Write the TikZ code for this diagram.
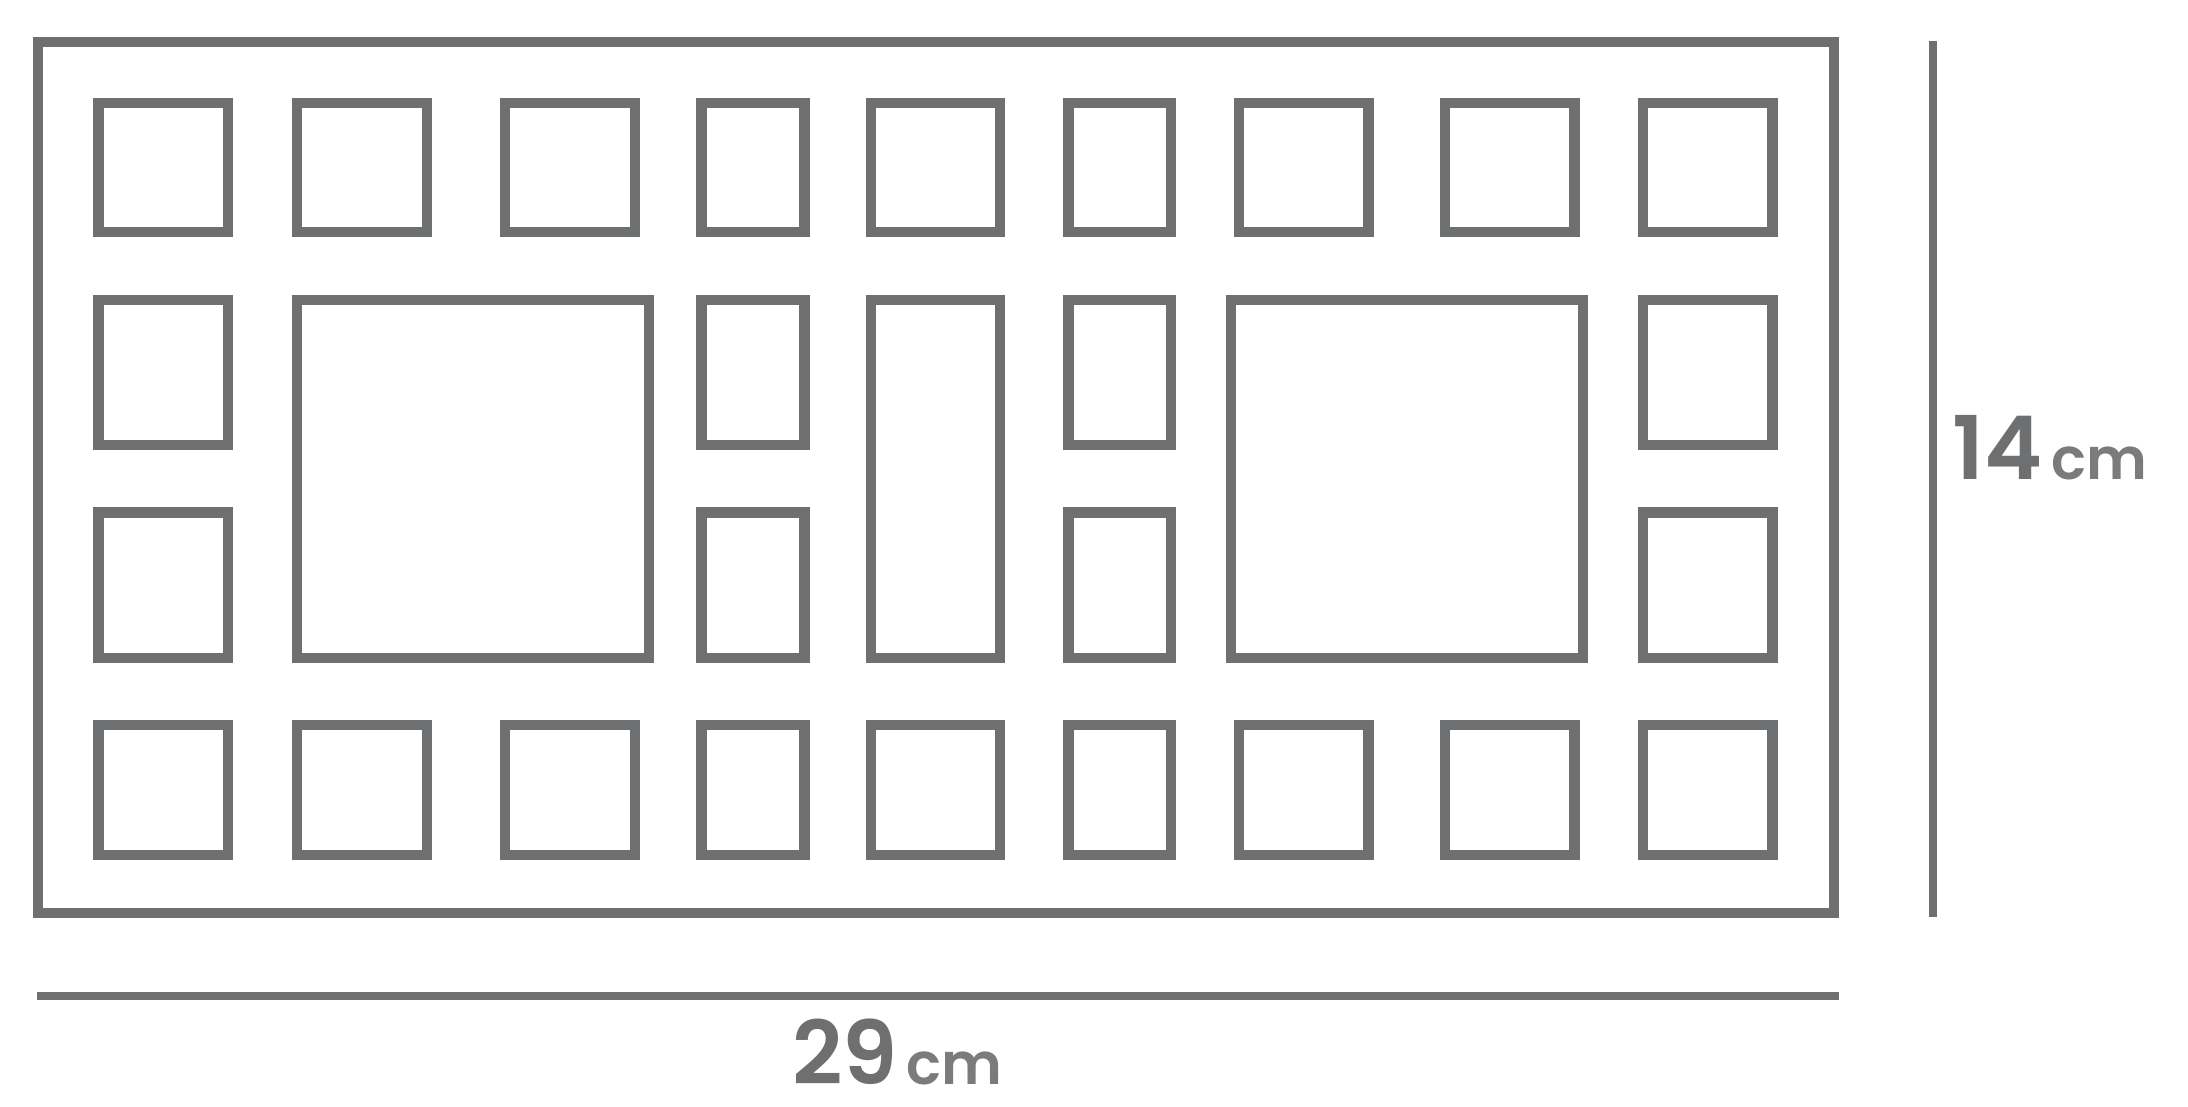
\documentclass[tikz,border=0pt]{standalone}
\usepackage{fontspec}
\setmainfont{Poppins}[BoldFont={Poppins SemiBold}]
\usepackage{tikz}
\definecolor{trayGray}{HTML}{6E6F71}
\definecolor{unitGray}{HTML}{7B7B7D}
\def\sizetext#1{{\fontsize{25}{26}\selectfont\bfseries #1}\hspace{2.5pt}{\fontsize{16.5}{17}\selectfont\bfseries\color{unitGray}cm}}

\begin{document}
\begin{tikzpicture}[x=0.01cm, y=-0.01cm,
		frame/.style={draw=trayGray, line width=2.85pt},
		pocket/.style={draw=trayGray, line width=2.99pt},
		ruler/.style={draw=trayGray, line width=2.28pt},
		sizelabel/.style={text=trayGray, inner sep=0pt, text depth=0pt, anchor=base}]
		\useasboundingbox (0, 0) rectangle (2188, 1106);
		%%%%% START %%%%%
		
		\draw[frame] (38, 42) rectangle (1833.5, 913);
		
		% top row
		\draw[pocket] (98.5, 103) rectangle (228, 232);
		\draw[pocket] (297, 103) rectangle (427, 232);
		\draw[pocket] (505, 103) rectangle (635, 232);
		\draw[pocket] (701.5, 103) rectangle (804.5, 232);
		\draw[pocket] (871, 103) rectangle (1000, 232);
		\draw[pocket] (1068.5, 103) rectangle (1171, 232);
		\draw[pocket] (1239, 103) rectangle (1368.5, 232);
		\draw[pocket] (1445, 103) rectangle (1574.5, 232);
		\draw[pocket] (1643, 103) rectangle (1772.5, 232);
		
		% middle rows
		\draw[pocket] (98.5, 300) rectangle (228, 445);
		\draw[pocket] (98.5, 512.5) rectangle (228, 658);
		\draw[pocket] (297, 300) rectangle (649, 658);
		\draw[pocket] (701.5, 300) rectangle (804.5, 445);
		\draw[pocket] (701.5, 512.5) rectangle (804.5, 658);
		\draw[pocket] (871, 300) rectangle (1000, 658);
		\draw[pocket] (1068.5, 300) rectangle (1171, 445);
		\draw[pocket] (1068.5, 512.5) rectangle (1171, 658);
		\draw[pocket] (1231, 300) rectangle (1583, 658);
		\draw[pocket] (1643, 300) rectangle (1772.5, 445);
		\draw[pocket] (1643, 512.5) rectangle (1772.5, 658);
		
		% bottom row
		\draw[pocket] (98.5, 725) rectangle (228, 855);
		\draw[pocket] (297, 725) rectangle (427, 855);
		\draw[pocket] (505, 725) rectangle (635, 855);
		\draw[pocket] (701.5, 725) rectangle (804.5, 855);
		\draw[pocket] (871, 725) rectangle (1000, 855);
		\draw[pocket] (1068.5, 725) rectangle (1171, 855);
		\draw[pocket] (1239, 725) rectangle (1368.5, 855);
		\draw[pocket] (1445, 725) rectangle (1574.5, 855);
		\draw[pocket] (1643, 725) rectangle (1772.5, 855);
		
		% sizes
		\draw[ruler] (1933, 41) -- (1933, 917);
		\node[sizelabel] (height) at (2050, 479) {\sizetext{14}};
		
		\draw[ruler] (37, 996) -- (1839, 996);
		\node[sizelabel] (width) at (897.5, 1084) {\sizetext{29}};
		
		%%%%% END %%%%%
	\end{tikzpicture}
\end{document}
